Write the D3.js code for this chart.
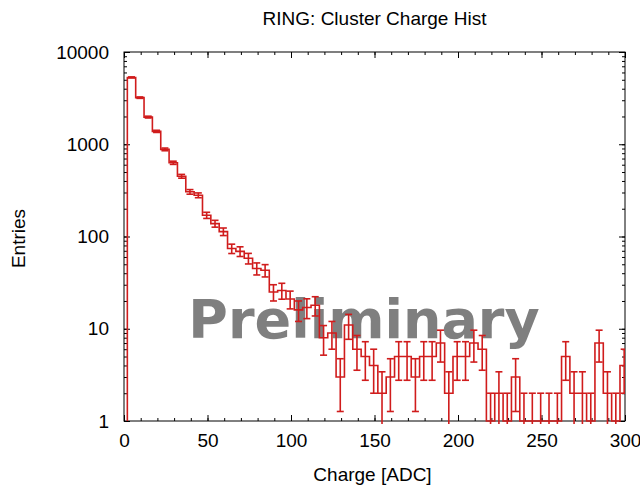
<!DOCTYPE html>
<html>
<head>
<meta charset="utf-8">
<style>
  body { margin: 0; background: #fff; }
  svg { display: block; }
  text { font-family: "Liberation Sans", Arial, sans-serif; fill: #000; }
</style>
</head>
<body>
<script src="https://cdn.jsdelivr.net/npm/d3@7"></script>
<script>

  const width = 640,
        height = 486,
        red = '#d01c1c'

  const margin = {left: 124, top: 52, right: 15, bottom: 65}
  const plotW = width - margin.left - margin.right,
        plotH = height - margin.top - margin.bottom

  // histogram bins (low edges, 5 ADC wide) and entries
  const binEdges = [2, 7, 12, 17, 22, 27, 32, 37, 42, 47, 52, 57, 62, 67, 72, 77, 82, 87, 92, 97,
                    102, 107, 112, 117, 122, 127, 132, 137, 142, 147, 152, 157, 162, 167, 172, 177, 182, 187, 192, 197,
                    202, 207, 212, 217, 222, 227, 232, 237, 242, 247, 252, 257, 262, 267, 272, 277, 282, 287, 292, 297, 302]
  const counts = [5300, 3200, 1970, 1380, 880, 630, 450, 305, 280, 170,
                  138, 113, 74, 69, 58, 45, 43, 25, 26, 21,
                  16, 17, 18, 8, 9, 3, 11, 6, 5, 4,
                  2, 3, 5, 5, 3, 5, 5, 7, 2, 5,
                  5, 7, 6, 1, 2, 1, 3, 1, 1, 1,
                  1, 1, 5, 2, 2, 1, 7, 2, 1, 4]

  const xTicks = [0, 50, 100, 150, 200, 250, 300]
  const yTicks = [1, 10, 100, 1000, 10000]

  const x = d3.scaleLinear().domain([0, 300]).range([0, plotW])
  const y = d3.scaleLog().domain([1, 10000]).range([plotH, 0])

  const svg = d3.select('body').append('svg')
      .attr('width', width)
      .attr('height', height)

  svg.append('defs').append('clipPath').attr('id', 'clip')
    .append('rect').attr('y', -2).attr('width', plotW).attr('height', plotH + 6)

  const g = svg.append('g')
      .attr('transform', `translate(${margin.left}, ${margin.top})`)

  // title and axis titles
  svg.append('text')
    .attr('x', margin.left + plotW / 2)
    .attr('y', 25)
    .style('text-anchor', 'middle')
    .style('font-size', '19px')
    .text('RING: Cluster Charge Hist')

  svg.append('text')
    .attr('transform', `translate(25, ${margin.top + plotH / 2 + 2}) rotate(-90)`)
    .style('text-anchor', 'middle')
    .style('font-size', '19px')
    .text('Entries')

  svg.append('text')
    .attr('x', margin.left + plotW / 2 - 2)
    .attr('y', 481)
    .style('text-anchor', 'middle')
    .style('font-size', '19px')
    .text('Charge [ADC]')

  // axes: ticks inside, mirrored on top / right
  const minorX = d3.range(0, 301, 10)
  const minorY = y.ticks()

  const axB = d3.axisBottom(x).tickValues(minorX).tickSize(-3).tickFormat('')
  const axT = d3.axisTop(x).tickValues(minorX).tickSize(-3).tickFormat('')
  const axL = d3.axisLeft(y).tickValues(minorY).tickSize(-3).tickFormat('')
  const axR = d3.axisRight(y).tickValues(minorY).tickSize(-3).tickFormat('')

  g.append('g').attr('transform', `translate(0, ${plotH})`).call(axB)
  g.append('g').call(axT)
  g.append('g').call(axL)
  g.append('g').attr('transform', `translate(${plotW}, 0)`).call(axR)

  g.append('g').attr('transform', `translate(0, ${plotH})`)
    .call(d3.axisBottom(x).tickValues(xTicks).tickSize(-6).tickPadding(13).tickFormat(d3.format('d')))
  g.append('g')
    .call(d3.axisTop(x).tickValues(xTicks).tickSize(-6).tickFormat(''))
  g.append('g')
    .call(d3.axisLeft(y).tickValues(yTicks).tickSize(-6).tickPadding(15).tickFormat(d3.format('d')))
  g.append('g').attr('transform', `translate(${plotW}, 0)`)
    .call(d3.axisRight(y).tickValues(yTicks).tickSize(-6).tickFormat(''))

  g.selectAll('.domain').remove()
  g.selectAll('.tick line').attr('stroke', '#000')
  g.selectAll('.tick text').style('font-size', '19px')

  g.append('rect')
    .attr('width', plotW)
    .attr('height', plotH)
    .attr('fill', 'none')
    .attr('stroke', '#000')

  // watermark (under the histogram)
  g.append('text')
    .attr('x', 240)
    .attr('y', 286)
    .style('text-anchor', 'middle')
    .style('font-family', '"DejaVu Sans", sans-serif')
    .style('font-weight', 'bold')
    .style('font-size', '54px')
    .style('fill', '#7f7f7f')
    .text('Preliminary')

  const bins = counts.map((c, i) => ({lo: binEdges[i], hi: binEdges[i + 1], n: c, err: Math.sqrt(c)}))
  const hasLow = d => d.n - d.err > 0.9
  const yLow = d => hasLow(d) ? y(d.n - d.err) : plotH + 3
  const xMid = d => x((d.lo + d.hi) / 2)
  const capW = 3.5

  const hist = g.append('g').attr('clip-path', 'url(#clip)')

  // step outline
  let path = `M${x(bins[0].lo)},${plotH}`
  bins.forEach(b => { path += `V${y(b.n)}H${x(b.hi)}` })
  path += `V${plotH}`
  hist.append('path')
    .attr('d', path)
    .attr('fill', 'none')
    .attr('stroke', red)
    .attr('stroke-width', 1.6)

  // error bars, end caps almost as wide as the bin
  const ebar = hist.selectAll('.ebar')
    .data(bins)
    .enter().append('g')
      .attr('class', 'ebar')
      .attr('transform', d => `translate(${xMid(d)}, 0)`)
  ebar.append('line')
    .attr('y1', yLow)
    .attr('y2', d => y(d.n + d.err))
  ebar.append('line')
    .attr('x1', -capW).attr('x2', capW)
    .attr('y1', d => y(d.n + d.err)).attr('y2', d => y(d.n + d.err))
  ebar.filter(hasLow).append('line')
    .attr('x1', -capW).attr('x2', capW)
    .attr('y1', d => y(d.n - d.err)).attr('y2', d => y(d.n - d.err))
  ebar.selectAll('line')
    .attr('stroke', red)
    .attr('stroke-width', 1.6)

</script>
</body>
</html>
